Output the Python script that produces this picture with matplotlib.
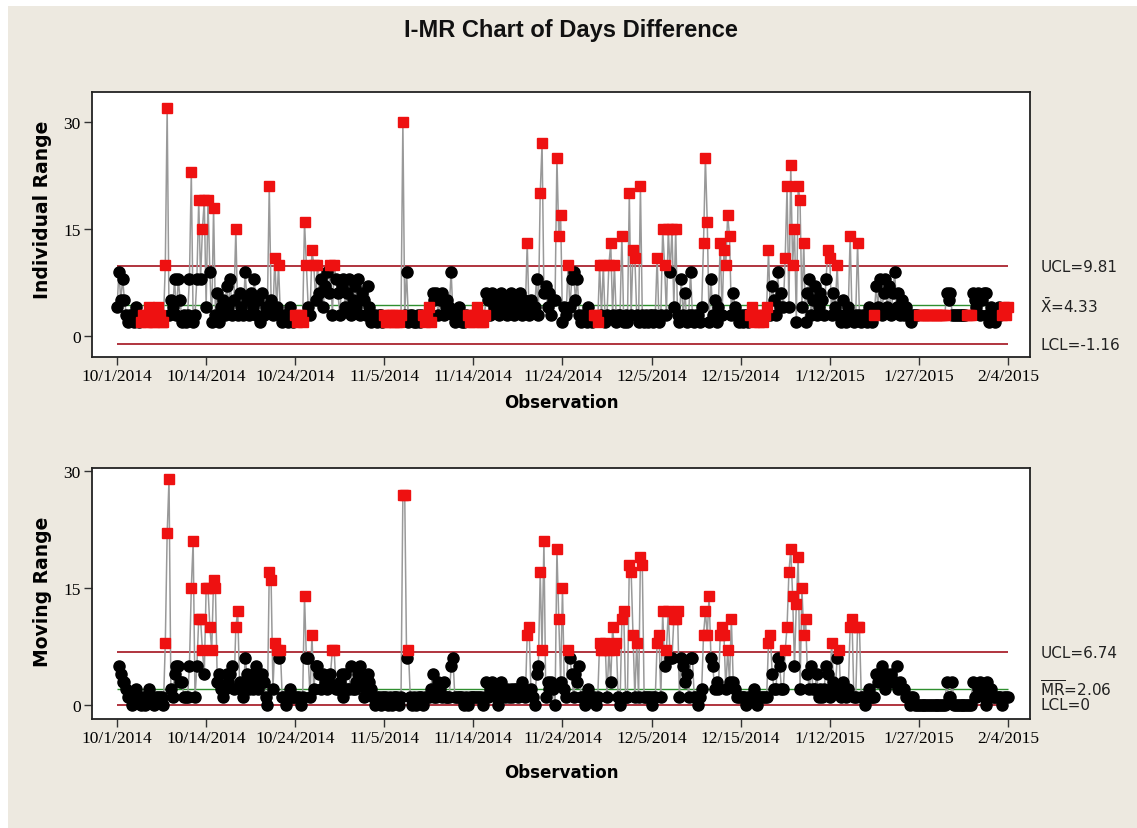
import numpy as np
import matplotlib.pyplot as plt
from matplotlib.patches import Rectangle
import matplotlib.transforms as mtransforms

plt.rcParams['mathtext.fontset'] = 'custom'
plt.rcParams['mathtext.rm'] = 'DejaVu Sans'

# x轴日期刻度
date_labels = ["10/1/2014", "10/14/2014", "10/24/2014", "11/5/2014", "11/14/2014",
               "11/24/2014", "12/5/2014", "12/15/2014", "1/12/2015", "1/27/2015", "2/4/2015"]
tick_step = 48

days_diff = [
    4, 9, 5, 8, 5, 3, 2, 3, 3, 2, 4, 3, 2, 2, 3, 3, 2, 4, 3, 2, 2, 3, 4, 3, 2, 2, 10, 32, 3, 5,
    4, 8, 3, 8, 5, 2, 3, 2, 3, 8, 23, 2, 3, 8, 19, 8, 15, 19,
    4, 19, 9, 2, 18, 3, 6, 2, 4, 5, 3, 7, 4, 8, 3, 5, 15, 3, 6, 4, 3, 9, 5, 3, 6, 4, 8, 3, 5, 2,
    6, 3, 4, 4, 21, 5, 3, 11, 4, 10, 3, 2, 3, 3, 2, 4, 3, 2,
    3, 2, 3, 3, 2, 16, 10, 4, 3, 12, 10, 5, 10, 6, 8, 4, 7, 9, 6, 10, 3, 10, 8, 6, 3, 7, 8, 4, 6, 8,
    3, 5, 7, 4, 8, 3, 6, 5, 3, 7, 4, 2, 3, 3, 2, 3, 3, 2,
    3, 2, 2, 3, 3, 2, 3, 2, 2, 3, 30, 3, 9, 2, 3, 3, 2, 2, 3, 2, 3, 3, 2, 3, 4, 2, 6, 5, 6, 3,
    5, 6, 3, 4, 5, 4, 9, 3, 2, 3, 4, 3, 2, 2, 3, 3, 2, 3,
    2, 3, 4, 3, 2, 2, 3, 6, 5, 3, 6, 4, 5, 5, 3, 6, 4, 5, 3, 4, 6, 5, 3, 5, 4, 6, 3, 5, 4, 13,
    3, 5, 4, 4, 8, 3, 20, 27, 6, 7, 4, 6, 3, 5, 5, 25, 14, 17,
    2, 4, 3, 10, 4, 8, 9, 5, 8, 3, 2, 3, 3, 2, 4, 3, 2, 3, 3, 2, 10, 3, 10, 2, 3, 10, 13, 3, 10, 2,
    3, 3, 14, 2, 3, 2, 20, 3, 12, 11, 3, 2, 21, 3, 2, 3, 2, 3,
    3, 2, 3, 11, 2, 3, 15, 10, 3, 15, 9, 15, 4, 15, 3, 2, 8, 3, 6, 2, 3, 9, 3, 2, 3, 3, 2, 4, 13, 25,
    16, 2, 8, 3, 5, 2, 4, 13, 3, 12, 10, 17, 14, 3, 6, 4, 3, 2,
    3, 2, 3, 3, 2, 3, 4, 2, 3, 3, 2, 3, 2, 3, 4, 12, 3, 7, 5, 3, 9, 4, 6, 4, 11, 21, 4, 24, 10, 15,
    2, 21, 19, 4, 13, 2, 6, 8, 3, 5, 7, 3, 4, 6, 5, 3, 8, 12,
    11, 3, 6, 4, 10, 3, 2, 5, 3, 2, 4, 14, 3, 2, 3, 13, 3, 2, 3, 3, 2, 4, 3, 2, 3, 7, 4, 8, 3, 6,
    8, 4, 7, 3, 6, 9, 4, 6, 3, 5, 3, 4, 3, 3, 2, 3, 3, 3,
    3, 3, 3, 3, 3, 3, 3, 3, 3, 3, 3, 3, 3, 3, 3, 6, 5, 6, 3, 3, 3, 3, 3, 3, 3, 3, 3, 3, 3,
    6, 5, 4, 6, 3, 5, 6, 6, 3, 2, 4, 3, 2, 3, 4, 3, 3, 4, 3, 4,
]

# 控制限
x_bar, i_ucl, i_lcl = 4.33, 9.81, -1.16
mr_bar, mr_ucl, mr_lcl = 2.06, 6.74, 0

ind = np.array(days_diff, dtype=float)
obs = np.arange(len(ind))
mr = np.abs(np.diff(ind))
mr_obs = obs[1:]

# 检验1: 超出控制限; 检验2: 连续9点在中心线同侧
bad_i = (ind > i_ucl) | (ind < i_lcl)
run, side = 0, 0
for k, v in enumerate(ind):
    s = 1 if v > x_bar else (-1 if v < x_bar else 0)
    if s != 0 and s == side:
        run += 1
    else:
        run = 1 if s != 0 else 0
        side = s
    if run >= 9:
        bad_i[k] = True
bad_mr = mr > mr_ucl

W, H = 1137, 829
fig = plt.figure(figsize=(W / 100, H / 100), dpi=100, facecolor="white")
fig.patches.append(Rectangle((8 / W, 0), 1, 1 - 7 / H, transform=fig.transFigure,
                             facecolor="#EDE9E0", edgecolor="none", zorder=-10))

ax1 = fig.add_axes([92 / W, 1 - 358 / H, 938 / W, 265 / H])
ax2 = fig.add_axes([92 / W, 1 - 720 / H, 938 / W, 251 / H])

tick_font = dict(family="Liberation Serif", size=12.5)
label_font = dict(family="DejaVu Sans", weight="bold")


def draw(ax, xs, ys, bad, center, ucl, lcl, lim_texts, ylim, ylabel, xlab_y, ylab_y):
    n_last = obs[-1]
    ax.hlines([ucl, lcl], 0, n_last, color="#A3121E", lw=1.2, zorder=1)
    ax.hlines(center, 0, n_last, color="#2F8F2F", lw=1.0, zorder=1)
    ax.plot(xs, ys, color="#999999", lw=1.1, zorder=2)
    ax.plot(xs[~bad], ys[~bad], "o", color="black", ms=8, mec="black", zorder=3)
    ax.plot(xs[bad], ys[bad], "s", color="#EE1111", ms=7.6, mec="#EE1111", zorder=4)
    ax.set_xlim(-13.5, 491.9)
    ax.set_ylim(*ylim)
    ax.set_yticks([0, 15, 30])
    ax.set_yticklabels(["0", "15", "30"], fontdict=tick_font)
    ax.set_xticks(list(range(0, len(ind), tick_step)))
    ax.set_xticklabels(date_labels, fontdict=tick_font)
    ax.tick_params(direction="out", length=6, width=1, color="#333333", pad=2,
                   top=False, right=False)
    for sp in ax.spines.values():
        sp.set_color("#222222")
        sp.set_linewidth(1.3)
    ax.set_xlabel("Observation", fontdict=label_font, size=12)
    ax.xaxis.set_label_coords(0.5, xlab_y)
    ax.set_ylabel(ylabel, fontdict=label_font, size=13.5)
    ax.yaxis.set_label_coords(-0.043, ylab_y)
    tr = mtransforms.blended_transform_factory(ax.transAxes, ax.transData)
    for val, txt in zip([ucl, center, lcl], lim_texts):
        ax.text(1.011, val, txt, transform=tr, ha="left", va="center",
                family="DejaVu Sans", size=11, color="#222222")


draw(ax1, obs, ind, bad_i, x_bar, i_ucl, i_lcl,
     ["UCL=9.81", r"$\bar{\mathrm{X}}$=4.33", "LCL=-1.16"],
     (-2.94, 34.2), "Individual Range", -0.136, 0.56)
draw(ax2, mr_obs, mr, bad_mr, mr_bar, mr_ucl, mr_lcl,
     ["UCL=6.74", r"$\overline{\mathrm{MR}}$=2.06", "LCL=0"],
     (-1.8, 30.4), "Moving Range", -0.175, 0.51)

fig.text(571 / W, 1 - 30 / H, "I-MR Chart of Days Difference", ha="center", va="center",
         family="Liberation Sans", weight="bold", size=17, color="#111111")

fig.savefig("out.png", dpi=100, facecolor=fig.get_facecolor())
